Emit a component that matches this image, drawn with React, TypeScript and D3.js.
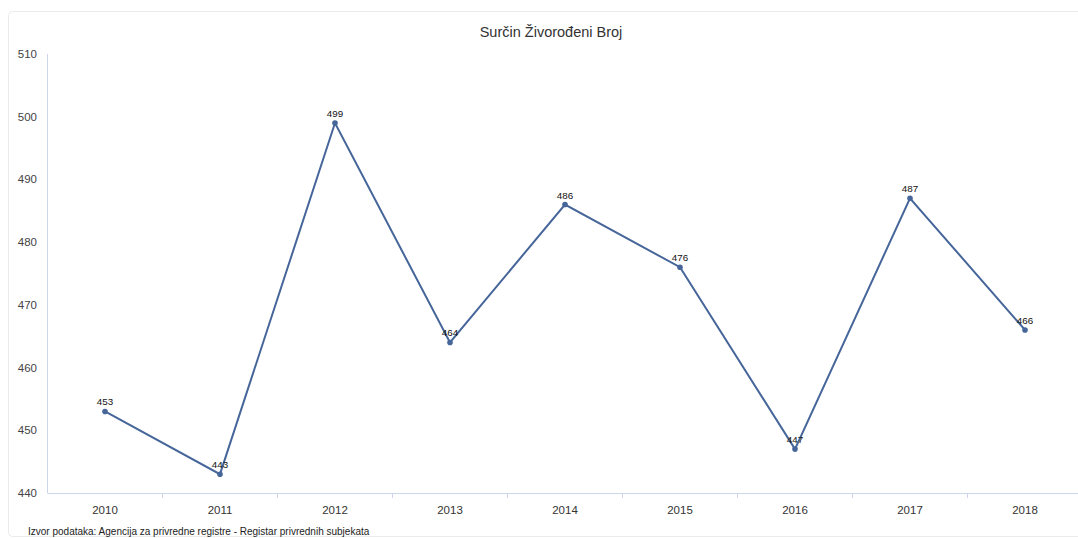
import React from "react";
import * as d3 from "d3";

const categories = ["2010", "2011", "2012", "2013", "2014", "2015", "2016", "2017", "2018"];
const values = [453, 443, 499, 464, 486, 476, 447, 487, 466];
const yTicks = [440, 450, 460, 470, 480, 490, 500, 510];
const title = "Surčin Živorođeni Broj";
const source = "Izvor podataka: Agencija za privredne registre - Registar privrednih subjekata";

export default function App() {
  const W = 1078, H = 538;
  const left = 47.5, right = 1082.5, top = 54, bottom = 493;
  const x = d3.scaleBand<string>().domain(categories).range([left, right]);
  const y = d3.scaleLinear().domain([440, 510]).range([bottom, top]);
  const line = d3.line<number>()
    .x((_, i) => (x(categories[i]) as number) + x.bandwidth() / 2)
    .y((d) => y(d));
  const font = "'Liberation Sans', Arial, Helvetica, sans-serif";
  const color = "#46669a";
  return (
    <svg width={W} height={H} style={{ position: "absolute", left: 0, top: 0 }} fontFamily={font}>
      <rect x={0} y={0} width={W} height={H} fill="#fff" />
      <rect x={8.5} y={11.5} width={1090} height={525} rx={4} fill="#fff" stroke="#ebebeb" />
      <text x={551} y={37} textAnchor="middle" fontSize={14.5} fill="#333">{title}</text>
      {yTicks.map((t) => (
        <text key={t} x={37} y={y(t) + 4} textAnchor="end" fontSize={11.5} fill="#444">{t}</text>
      ))}
      <line x1={left} x2={left} y1={top} y2={bottom} stroke="#ccd6eb" />
      <line x1={left} x2={right} y1={bottom + 0.5} y2={bottom + 0.5} stroke="#ccd6eb" />
      {categories.map((c, i) => (
        i > 0 ? <line key={"t" + c} x1={x(c)} x2={x(c)} y1={bottom} y2={bottom + 5} stroke="#ccd6eb" /> : null
      ))}
      {categories.map((c) => (
        <text key={c} x={(x(c) as number) + x.bandwidth() / 2} y={514} textAnchor="middle" fontSize={11.5} fill="#333">{c}</text>
      ))}
      <path d={line(values) || ""} fill="none" stroke={color} strokeWidth={2} />
      {values.map((v, i) => (
        <circle key={i} cx={(x(categories[i]) as number) + x.bandwidth() / 2} cy={y(v)} r={2.8} fill={color} />
      ))}
      {values.map((v, i) => (
        <text key={"l" + i} x={(x(categories[i]) as number) + x.bandwidth() / 2} y={y(v) - 6} textAnchor="middle" fontSize={9.8} fill="#111">{v}</text>
      ))}
      <text x={28} y={535} fontSize={10} fill="#222">{source}</text>
    </svg>
  );
}
